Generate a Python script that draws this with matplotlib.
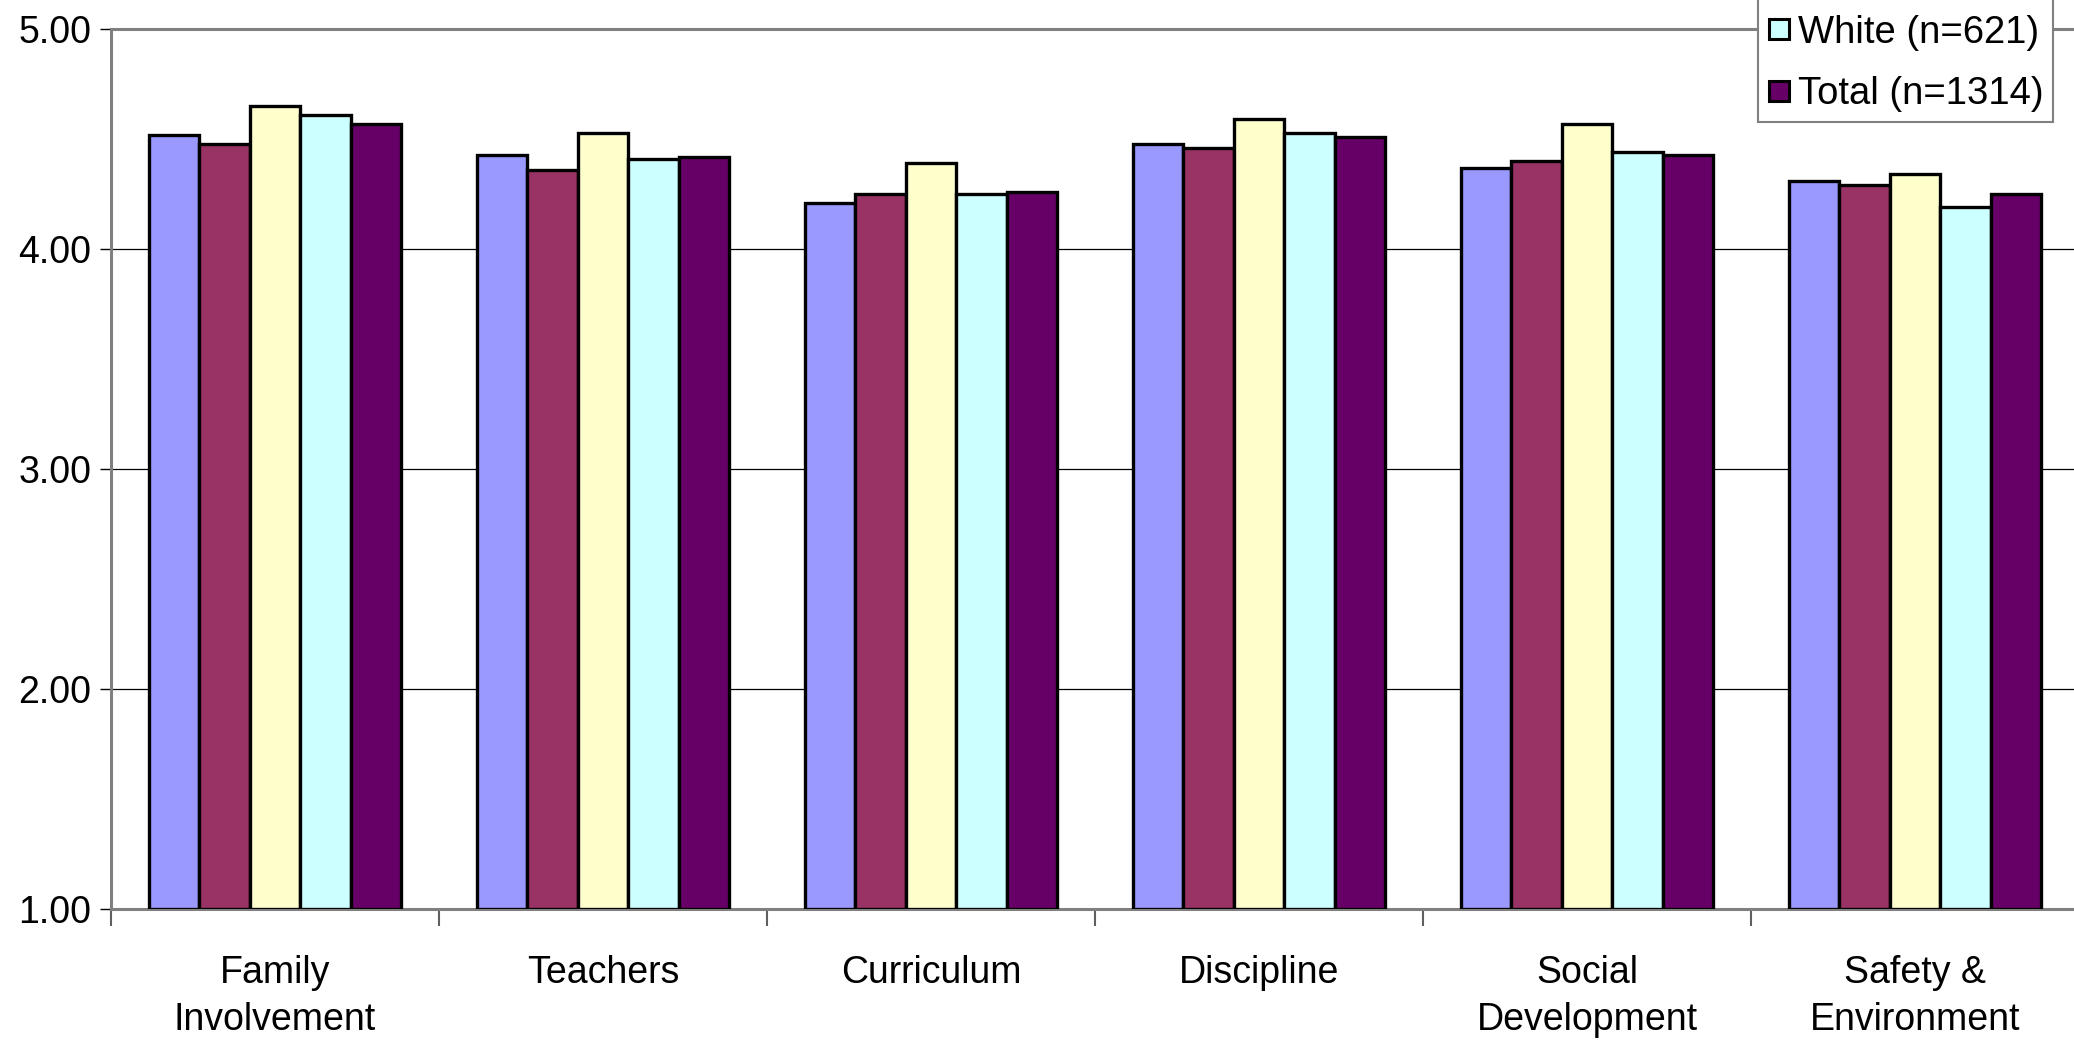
import matplotlib
matplotlib.use("Agg")
import matplotlib.pyplot as plt
from matplotlib.lines import Line2D
import numpy as np

plt.rcParams['font.family'] = ['Liberation Sans', 'DejaVu Sans']

categories = ["Family\nInvolvement", "Teachers", "Curriculum", "Discipline",
              "Social\nDevelopment", "Safety &\nEnvironment"]
series1 = [4.52, 4.43, 4.21, 4.48, 4.37, 4.31]
series2 = [4.48, 4.36, 4.25, 4.46, 4.40, 4.29]
series3 = [4.65, 4.53, 4.39, 4.59, 4.57, 4.34]
white = [4.61, 4.41, 4.25, 4.53, 4.44, 4.19]
total = [4.57, 4.42, 4.26, 4.51, 4.43, 4.25]
series_values = [series1, series2, series3, white, total]
series_labels = [None, None, None, "White (n=621)", "Total (n=1314)"]
colors = ["#9999FF", "#993366", "#FFFFCC", "#CCFFFF", "#660066"]
yticks = [1.0, 2.0, 3.0, 4.0, 5.0]
ytick_labels = ["1.00", "2.00", "3.00", "4.00", "5.00"]

W, H = 2074, 1042
fig = plt.figure(figsize=(W / 100, H / 100), dpi=100)
ax = fig.add_axes([111 / W, (H - 909) / H, 1968 / W, 879.7 / H])

n = len(series_values)
bw = 0.154
x = np.arange(len(categories))
for i, vals in enumerate(series_values):
    offs = (i - (n - 1) / 2) * bw
    ax.bar(x + offs, np.array(vals) - 1.0, bw, bottom=1.0, color=colors[i],
           edgecolor="black", linewidth=2.4, zorder=3)

ax.set_xlim(-0.5, len(categories) - 0.5)
ax.set_ylim(1.0, 5.0)
ax.set_yticks(yticks)
ax.set_yticklabels(ytick_labels, fontsize=27)
ax.yaxis.grid(True, color="black", linewidth=0.9, zorder=0)
ax.set_axisbelow(True)
ax.tick_params(axis="y", length=8, width=1.0, color="black", pad=6, direction="out")

ax.set_xticks(np.arange(len(categories) + 1) - 0.5)
ax.set_xticklabels([])
ax.tick_params(axis="x", which="major", length=12, width=1.5, color="#606060", direction="out")
ax.set_xticks(x, minor=True)
ax.set_xticklabels(categories, minor=True, fontsize=27, linespacing=1.4)
ax.tick_params(axis="x", which="minor", length=0, pad=33)

for s in ["left", "top", "bottom", "right"]:
    ax.spines[s].set_color("#808080")
    ax.spines[s].set_linewidth(2.2)

# The reference legend is clipped at the top of the image; an invisible
# spacer row keeps the frame's top edge outside the figure.
handles = [Line2D([], [], linestyle="none", marker=None)]
labels = [" "]
for i in range(n):
    if series_labels[i] is not None:
        handles.append(Line2D([], [], linestyle="none", marker="s", markersize=15,
                              markerfacecolor=colors[i], markeredgecolor="black",
                              markeredgewidth=2.2))
        labels.append(series_labels[i])
leg = fig.legend(handles, labels, loc="lower left",
                 bbox_to_anchor=(1758 / W, (H - 122) / H),
                 bbox_transform=fig.transFigure, borderaxespad=0,
                 fontsize=27.5, frameon=True, fancybox=False, shadow=False,
                 borderpad=0.25, labelspacing=0.67, handlelength=0.6,
                 handletextpad=0.2)
leg.get_frame().set_edgecolor("#808080")
leg.get_frame().set_linewidth(1.5)
leg.get_frame().set_facecolor("white")
leg.get_frame().set_alpha(1.0)
leg.set_zorder(10)

fig.savefig("out.png", dpi=100)
